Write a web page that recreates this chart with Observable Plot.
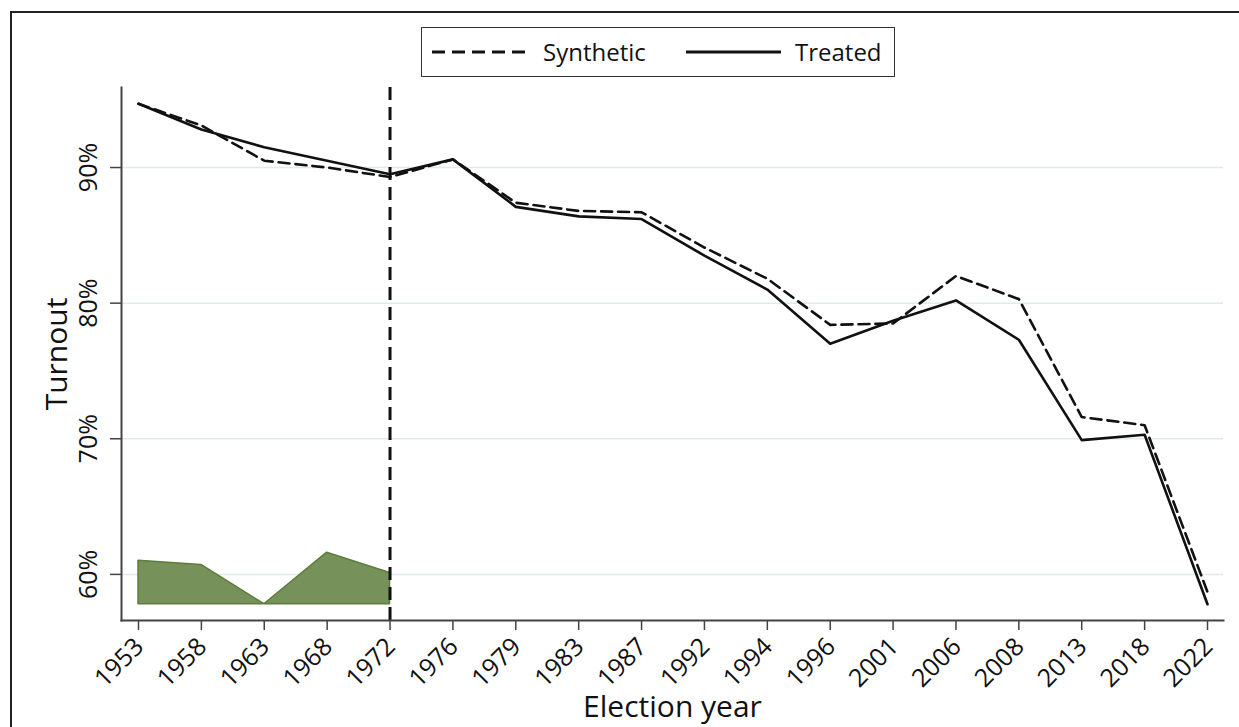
<!DOCTYPE html>
<html><head><meta charset="utf-8">
<script src="https://cdn.jsdelivr.net/npm/d3@7"></script>
<script src="https://cdn.jsdelivr.net/npm/@observablehq/plot@0.6"></script>
<style>
html,body{margin:0;padding:0;background:#fff;}
body{width:1239px;height:727px;overflow:hidden;position:relative;font-family:"Open Sans",sans-serif;color:#111;}
#frame{position:absolute;left:10px;top:11px;width:1300px;height:800px;border:2px solid #222;box-sizing:border-box;}
#legend{position:absolute;left:421px;top:27px;width:474px;height:50px;border:1.5px solid #333;box-sizing:border-box;background:#fff;}
#legend svg{position:absolute;top:0;left:0;}
#legend span{position:absolute;top:50%;transform:translateY(-52%);font-size:24px;line-height:1;white-space:nowrap;}
#chart{position:absolute;left:0;top:80px;}
</style>
</head><body>
<div id="frame"></div>
<div id="legend">
  <svg width="470" height="46"><line x1="10" x2="106" y1="24" y2="24" stroke="#111" stroke-width="3" stroke-dasharray="13,7"/><line x1="264" x2="359" y1="24" y2="24" stroke="#111" stroke-width="3"/></svg>
  <span id="lg1" style="left:121px">Synthetic</span>
  <span id="lg2" style="left:373px">Treated</span>
</div>
<div id="chart"></div>
<script>
const years = ["1953","1958","1963","1968","1972","1976","1979","1983","1987","1992","1994","1996","2001","2006","2008","2013","2018","2022"];
const treated = [94.7,92.8,91.5,90.5,89.5,90.6,87.1,86.4,86.2,83.5,81.0,77.0,78.7,80.2,77.3,69.9,70.3,57.8];
const synthetic = [94.7,93.1,90.5,90.0,89.3,90.6,87.4,86.8,86.7,84.1,81.8,78.4,78.5,82.0,80.3,71.6,71.0,58.7];
const gapYears = ["1953","1958","1963","1968","1972"];
const gapTop = [61.0,60.7,57.8,61.6,60.1];
const gapBase = 57.8;
const yTicks = [60,70,80,90];
const treatmentYear = "1972";
const xTitle = "Election year";
const yTitle = "Turnout";

const treatedData = years.map((yr,i)=>({year:yr, value:treated[i]}));
const syntheticData = years.map((yr,i)=>({year:yr, value:synthetic[i]}));
const gapData = gapYears.map((yr,i)=>({year:yr, top:gapTop[i], base:gapBase}));

const chart = Plot.plot({
  width:1239, height:647,
  marginTop:7, marginBottom:107, marginLeft:121, marginRight:16,
  x:{type:"point", domain:years, range:[138,1207], padding:0, round:false, label:null},
  y:{domain:[56.6,95.9], label:null},
  style:{fontFamily:"'Open Sans', sans-serif", background:"transparent", color:"#111"},
  marks:[
    Plot.gridY(yTicks,{stroke:"#dcebee", strokeOpacity:1, strokeWidth:1.5}),
    Plot.areaY(gapData,{x:"year", y1:"base", y2:"top", fill:"#76915a", stroke:"#5d7d3d", strokeWidth:1.5}),
    Plot.ruleX([treatmentYear],{stroke:"#111", strokeWidth:3, strokeDasharray:"13,7"}),
    Plot.line(treatedData,{x:"year", y:"value", stroke:"#111", strokeWidth:2.6}),
    Plot.line(syntheticData,{x:"year", y:"value", stroke:"#111", strokeWidth:2.6, strokeDasharray:"11,6"}),
    Plot.frame({anchor:"left", stroke:"#444", strokeWidth:2}),
    Plot.frame({anchor:"bottom", stroke:"#444", strokeWidth:2}),
    Plot.axisY(yTicks,{tickSize:11, tickFormat:()=>"", stroke:"#444", strokeWidth:1.5, label:null}),
    Plot.axisX(years,{tickSize:10, tickFormat:()=>"", stroke:"#444", strokeWidth:1.5, label:null}),
    Plot.text(yTicks,{y:d=>d, frameAnchor:"left", dx:-33, rotate:-90, textAnchor:"middle", lineAnchor:"middle", text:d=>d+"%", fontSize:25, fill:"#111"}),
    Plot.text(years,{x:d=>d, frameAnchor:"bottom", dx:1, dy:22, rotate:-45, textAnchor:"end", lineAnchor:"middle", text:d=>d, fontSize:25, fill:"#111"}),
    Plot.text([xTitle],{frameAnchor:"bottom", dy:87, lineAnchor:"middle", text:d=>d, fontSize:30, fill:"#111"}),
    Plot.text([yTitle],{frameAnchor:"left", dx:-64, rotate:-90, textAnchor:"middle", lineAnchor:"middle", text:d=>d, fontSize:30, fill:"#111"})
  ]
});
document.getElementById("chart").appendChild(chart);
</script>
</body></html>
